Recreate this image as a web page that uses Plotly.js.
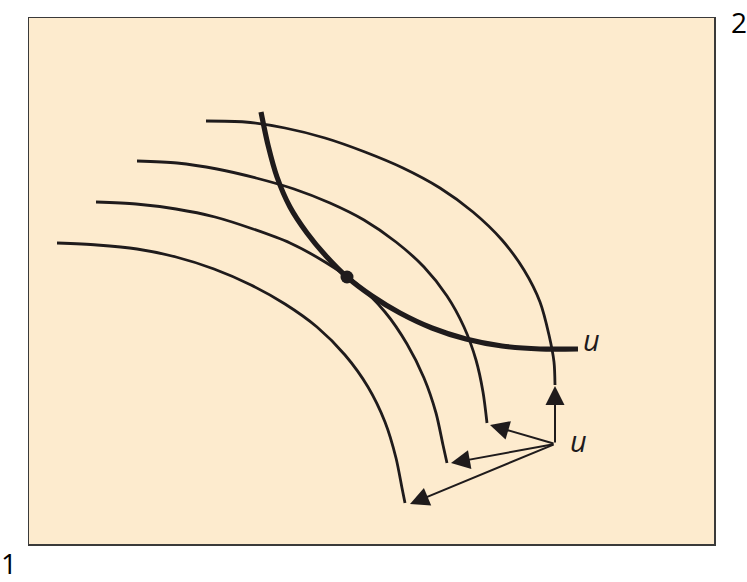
<!DOCTYPE html>
<html>
<head>
<meta charset="utf-8">
<script src="https://cdn.plot.ly/plotly-3.0.1.min.js"></script>
<style>
  body { margin: 0; background: #ffffff; }
  #chart { width: 747px; height: 582px; }
</style>
</head>
<body>
<div id="chart"></div>
<script>
// four frontier curves (good 1 on x, good 2 on y), outermost first
let curveAx = [177, 216, 256, 296, 336, 374, 411, 444, 473, 495, 511, 520, 525, 526];
let curveAy = [423, 422, 416, 406, 392, 376, 356, 332, 304, 274, 242, 209, 182, 159];
let curveBx = [108, 148, 188, 227, 265, 301, 335, 367, 395, 418, 435, 447, 454, 458];
let curveBy = [383, 381, 375, 366, 355, 341, 324, 302, 277, 248, 217, 184, 152, 121];
let curveCx = [67, 107, 147, 186, 224, 261, 296, 328, 356, 378, 395, 407, 414, 418];
let curveCy = [342, 340, 335, 327, 315, 301, 282, 260, 232, 200, 166, 131, 99, 81];
let curveDx = [28, 68, 108, 147, 185, 222, 256, 288, 316, 339, 356, 367, 373, 376];
let curveDy = [301, 299, 295, 287, 275, 259, 240, 217, 189, 157, 122, 86, 56, 41];

// thick u curve and the marked point on it
let uCurveX = [232, 239, 248, 261, 278, 297, 318, 343, 371, 403, 437, 473, 511, 549];
let uCurveY = [432, 399, 367, 337, 311, 288, 267, 248, 231, 216, 205, 198, 195, 195];
let dotX = [318];
let dotY = [267];

// arrows from the u point to the curve ends
let arrowFrom = [526, 100];
let arrowToX = [526, 461, 422, 381];
let arrowToY = [158, 119, 81, 40];

let ink = "#1f1b1c";

let thin = function (xs, ys) {
  return {
    x: xs, y: ys, mode: "lines", hoverinfo: "skip", showlegend: false,
    line: { color: ink, width: 2.8, shape: "spline", smoothing: 0.8 }
  };
};

let traces = [
  thin(curveAx, curveAy),
  thin(curveBx, curveBy),
  thin(curveCx, curveCy),
  thin(curveDx, curveDy),
  {
    x: uCurveX, y: uCurveY, mode: "lines", hoverinfo: "skip", showlegend: false,
    line: { color: ink, width: 5.2, shape: "spline", smoothing: 0.8 }
  },
  {
    x: dotX, y: dotY, mode: "markers", hoverinfo: "skip", showlegend: false,
    marker: { color: ink, size: 13 }
  }
];

let annotations = [];
for (let i = 0; i < arrowToX.length; i++) {
  annotations.push({
    x: arrowToX[i], y: arrowToY[i], xref: "x", yref: "y",
    ax: arrowFrom[0], ay: arrowFrom[1], axref: "x", ayref: "y",
    text: "", showarrow: true,
    arrowhead: 2, arrowsize: 1.9, arrowwidth: 2, arrowcolor: ink
  });
}

let labelFont = { family: "Open Sans, sans-serif", size: 28, color: "#000000" };
let italicFont = { family: "Open Sans, sans-serif", size: 29, color: ink, style: "italic" };

annotations.push(
  { x: 562, y: 205, xref: "x", yref: "y", text: "<i>u</i>", showarrow: false, font: italicFont },
  { x: 549, y: 104, xref: "x", yref: "y", text: "<i>u</i>", showarrow: false, font: italicFont },
  { x: -0.029, y: -0.036, xref: "paper", yref: "paper", xanchor: "center", yanchor: "middle",
    text: "1", showarrow: false, font: labelFont },
  { x: 1.036, y: 1.032, xref: "paper", yref: "paper", xanchor: "center", yanchor: "top",
    text: "2", showarrow: false, font: labelFont }
);

let axisStyle = {
  showgrid: false, zeroline: false, showticklabels: false, ticks: "",
  showline: true, mirror: true, linecolor: "#3a3a3a", linewidth: 1.5,
  fixedrange: true
};

let layout = {
  width: 747,
  height: 582,
  margin: { l: 29, r: 33, t: 18, b: 38, pad: 0 },
  paper_bgcolor: "#ffffff",
  plot_bgcolor: "#fdebce",
  xaxis: Object.assign({ range: [0, 685] }, axisStyle),
  yaxis: Object.assign({ range: [0, 526] }, axisStyle),
  annotations: annotations,
  showlegend: false
};

Plotly.newPlot("chart", traces, layout, { displayModeBar: false, staticPlot: true });
</script>
</body>
</html>
